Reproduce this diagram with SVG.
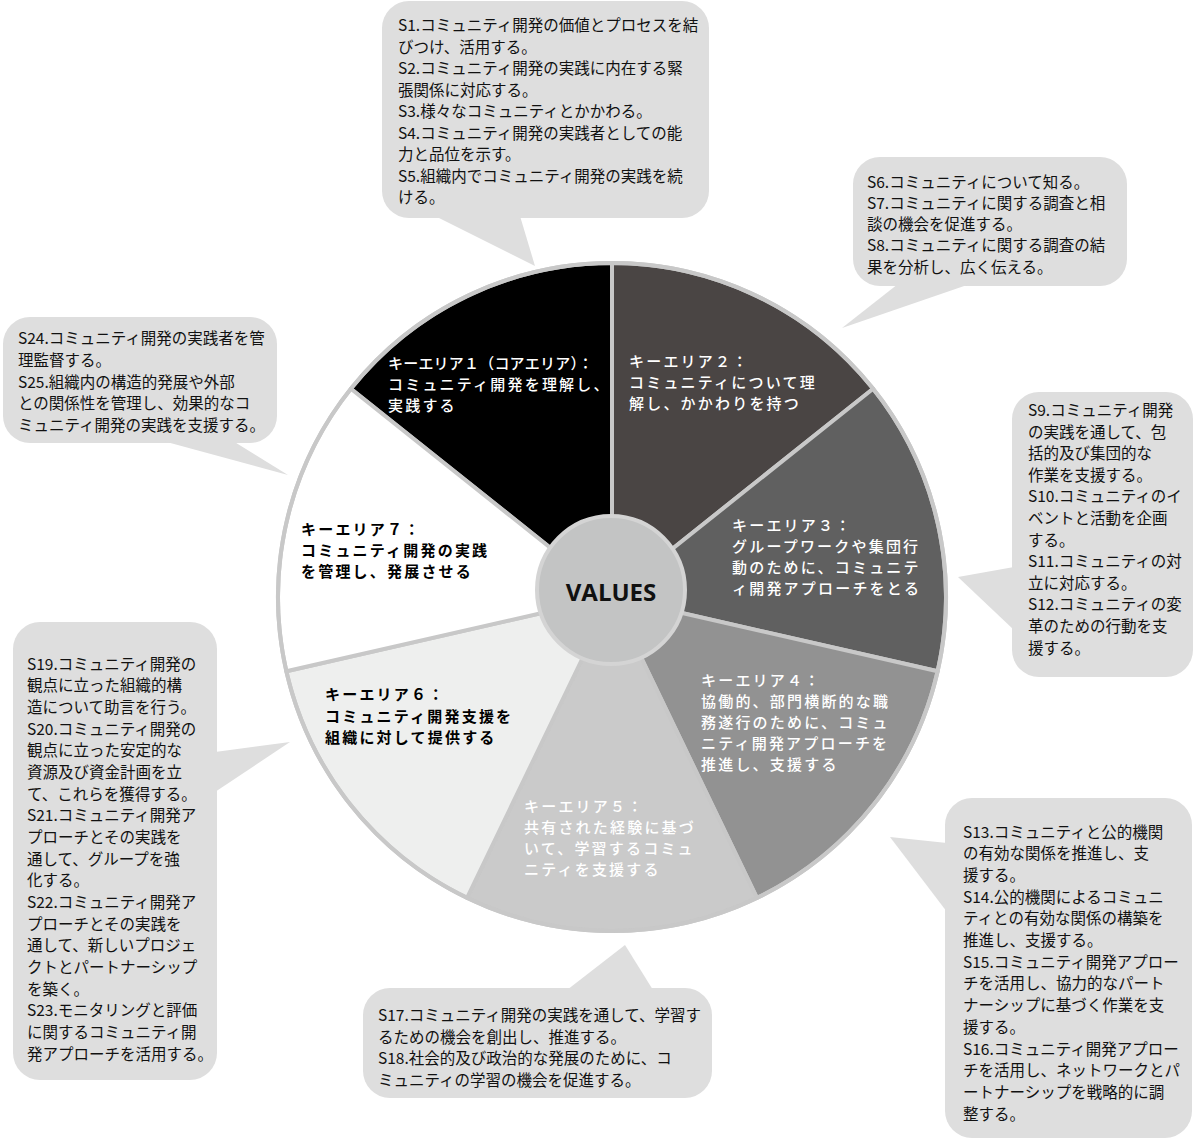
<svg xmlns="http://www.w3.org/2000/svg" width="1194" height="1142" viewBox="0 0 1194 1142">
<defs>
<style>
.bub{fill:#dedede;stroke:none}
.bt{font-family:"Noto Sans CJK JP","Noto Sans",sans-serif;font-size:15.5px;fill:#111}
.sec{stroke:#c8c8c8;stroke-width:4;stroke-linejoin:round}
.st{font-family:"Noto Sans CJK JP","Noto Sans",sans-serif;font-size:15px;letter-spacing:2.2px}
.w{fill:#ffffff;font-weight:500}
.k{fill:#000000;font-weight:700}
</style>
</defs>
<rect width="1194" height="1142" fill="#ffffff"/>

<g id="wheel">
<g id="sector1"><path class="sec" fill="#000000" d="M612,597 L350.87,388.75 A334,334 0 0 1 612,263 Z"/>
<text class="st w" font-weight="600"><tspan x="388" y="369" letter-spacing="0.2">キーエリア１（コアエリア）：</tspan><tspan x="388" y="390">コミュニティ開発を理解し、</tspan><tspan x="388" y="411">実践する</tspan></text></g>
<g id="sector2"><path class="sec" fill="#4a4544" d="M612,597 L612,263 A334,334 0 0 1 873.13,388.75 Z"/>
<text class="st w"><tspan x="629" y="367">キーエリア２：</tspan><tspan x="629" y="388">コミュニティについて理</tspan><tspan x="629" y="409">解し、かかわりを持つ</tspan></text></g>
<g id="sector3"><path class="sec" fill="#606060" d="M612,597 L873.13,388.75 A334,334 0 0 1 937.63,671.32 Z"/>
<text class="st w"><tspan x="732" y="531">キーエリア３：</tspan><tspan x="732" y="552">グループワークや集団行</tspan><tspan x="732" y="573">動のために、コミュニテ</tspan><tspan x="732" y="594">ィ開発アプローチをとる</tspan></text></g>
<g id="sector4"><path class="sec" fill="#929292" d="M612,597 L937.63,671.32 A334,334 0 0 1 756.92,897.92 Z"/>
<text class="st w"><tspan x="701" y="686">キーエリア４：</tspan><tspan x="701" y="707">協働的、部門横断的な職</tspan><tspan x="701" y="728">務遂行のために、コミュ</tspan><tspan x="701" y="749">ニティ開発アプローチを</tspan><tspan x="701" y="770">推進し、支援する</tspan></text></g>
<g id="sector5"><path class="sec" fill="#cacaca" d="M612,597 L756.92,897.92 A334,334 0 0 1 467.08,897.92 Z"/>
<text class="st w"><tspan x="524" y="812">キーエリア５：</tspan><tspan x="524" y="833">共有された経験に基づ</tspan><tspan x="524" y="854">いて、学習するコミュ</tspan><tspan x="524" y="875">ニティを支援する</tspan></text></g>
<g id="sector6"><path class="sec" fill="#eeefee" d="M612,597 L467.08,897.92 A334,334 0 0 1 286.37,671.32 Z"/>
<text class="st k"><tspan x="325" y="700">キーエリア６：</tspan><tspan x="325" y="721.5">コミュニティ開発支援を</tspan><tspan x="325" y="743">組織に対して提供する</tspan></text></g>
<g id="sector7"><path class="sec" fill="#ffffff" d="M612,597 L286.37,671.32 A334,334 0 0 1 350.87,388.75 Z"/>
<text class="st k"><tspan x="301" y="535">キーエリア７：</tspan><tspan x="301" y="556">コミュニティ開発の実践</tspan><tspan x="301" y="577">を管理し、発展させる</tspan></text></g>
<circle cx="612" cy="597" r="334" fill="none" stroke="#c8c8c8" stroke-width="4"/>
</g>

<g id="values">
<circle cx="611" cy="590" r="74" fill="#c3c4c4" stroke="#d4d4d4" stroke-width="4"/>
<text x="611" y="601" text-anchor="middle" font-family="'Open Sans','Noto Sans',sans-serif" font-weight="700" font-size="24" fill="#111">VALUES</text>
</g>

<g id="callout-s1-s5">
<rect class="bub" x="382" y="1" width="327" height="217" rx="27"/>
<polygon class="bub" points="435,216 520,216 535,266"/>
<text class="bt"><tspan x="398" y="31">S1.コミュニティ開発の価値とプロセスを結</tspan><tspan x="398" y="52.5">びつけ、活用する。</tspan><tspan x="398" y="74">S2.コミュニティ開発の実践に内在する緊</tspan><tspan x="398" y="95.5">張関係に対応する。</tspan><tspan x="398" y="117">S3.様々なコミュニティとかかわる。</tspan><tspan x="398" y="138.5">S4.コミュニティ開発の実践者としての能</tspan><tspan x="398" y="160">力と品位を示す。</tspan><tspan x="398" y="181.5">S5.組織内でコミュニティ開発の実践を続</tspan><tspan x="398" y="203">ける。</tspan></text>
</g>

<g id="callout-s6-s8">
<rect class="bub" x="853" y="157" width="274" height="129" rx="27"/>
<polygon class="bub" points="898,284 970,284 842,328"/>
<text class="bt"><tspan x="867" y="188">S6.コミュニティについて知る。</tspan><tspan x="867" y="209">S7.コミュニティに関する調査と相</tspan><tspan x="867" y="230">談の機会を促進する。</tspan><tspan x="867" y="251">S8.コミュニティに関する調査の結</tspan><tspan x="867" y="273">果を分析し、広く伝える。</tspan></text>
</g>

<g id="callout-s9-s12">
<rect class="bub" x="1012" y="392" width="181" height="285" rx="27"/>
<polygon class="bub" points="1014,567 1014,630 958,577"/>
<text class="bt"><tspan x="1028" y="416">S9.コミュニティ開発</tspan><tspan x="1028" y="437.6">の実践を通して、包</tspan><tspan x="1028" y="459.2">括的及び集団的な</tspan><tspan x="1028" y="480.8">作業を支援する。</tspan><tspan x="1028" y="502.4">S10.コミュニティのイ</tspan><tspan x="1028" y="524">ベントと活動を企画</tspan><tspan x="1028" y="545.6">する。</tspan><tspan x="1028" y="567.2">S11.コミュニティの対</tspan><tspan x="1028" y="588.8">立に対応する。</tspan><tspan x="1028" y="610.4">S12.コミュニティの変</tspan><tspan x="1028" y="632">革のための行動を支</tspan><tspan x="1028" y="653.6">援する。</tspan></text>
</g>

<g id="callout-s13-s16">
<rect class="bub" x="945" y="798" width="247" height="340" rx="27"/>
<polygon class="bub" points="947,843 947,912 890,837"/>
<text class="bt"><tspan x="963" y="837.5">S13.コミュニティと公的機関</tspan><tspan x="963" y="859.2">の有効な関係を推進し、支</tspan><tspan x="963" y="880.9">援する。</tspan><tspan x="963" y="902.6">S14.公的機関によるコミュニ</tspan><tspan x="963" y="924.3">ティとの有効な関係の構築を</tspan><tspan x="963" y="946">推進し、支援する。</tspan><tspan x="963" y="967.7">S15.コミュニティ開発アプロー</tspan><tspan x="963" y="989.4">チを活用し、協力的なパート</tspan><tspan x="963" y="1011.1">ナーシップに基づく作業を支</tspan><tspan x="963" y="1032.8">援する。</tspan><tspan x="963" y="1054.5">S16.コミュニティ開発アプロー</tspan><tspan x="963" y="1076.2">チを活用し、ネットワークとパ</tspan><tspan x="963" y="1097.9">ートナーシップを戦略的に調</tspan><tspan x="963" y="1119.6">整する。</tspan></text>
</g>

<g id="callout-s17-s18">
<rect class="bub" x="363" y="988" width="349" height="110" rx="27"/>
<polygon class="bub" points="567,990 653,990 625,945"/>
<text class="bt"><tspan x="378" y="1021">S17.コミュニティ開発の実践を通して、学習す</tspan><tspan x="378" y="1042.5">るための機会を創出し、推進する。</tspan><tspan x="378" y="1064">S18.社会的及び政治的な発展のために、コ</tspan><tspan x="378" y="1085.5">ミュニティの学習の機会を促進する。</tspan></text>
</g>

<g id="callout-s19-s23">
<rect class="bub" x="13" y="622" width="204" height="458" rx="27"/>
<polygon class="bub" points="215,752 215,792 290,742"/>
<text class="bt"><tspan x="27" y="669.5">S19.コミュニティ開発の</tspan><tspan x="27" y="691.2">観点に立った組織的構</tspan><tspan x="27" y="712.8">造について助言を行う。</tspan><tspan x="27" y="734.5">S20.コミュニティ開発の</tspan><tspan x="27" y="756.2">観点に立った安定的な</tspan><tspan x="27" y="777.8">資源及び資金計画を立</tspan><tspan x="27" y="799.5">て、これらを獲得する。</tspan><tspan x="27" y="821.2">S21.コミュニティ開発ア</tspan><tspan x="27" y="842.9">プローチとその実践を</tspan><tspan x="27" y="864.5">通して、グループを強</tspan><tspan x="27" y="886.2">化する。</tspan><tspan x="27" y="907.9">S22.コミュニティ開発ア</tspan><tspan x="27" y="929.5">プローチとその実践を</tspan><tspan x="27" y="951.2">通して、新しいプロジェ</tspan><tspan x="27" y="972.9">クトとパートナーシップ</tspan><tspan x="27" y="994.5">を築く。</tspan><tspan x="27" y="1016.2">S23.モニタリングと評価</tspan><tspan x="27" y="1037.9">に関するコミュニティ開</tspan><tspan x="27" y="1059.5">発アプローチを活用する。</tspan></text>
</g>

<g id="callout-s24-s25">
<rect class="bub" x="3" y="317" width="274" height="126" rx="27"/>
<polygon class="bub" points="163,441 233,441 288,475"/>
<text class="bt"><tspan x="18" y="344">S24.コミュニティ開発の実践者を管</tspan><tspan x="18" y="366">理監督する。</tspan><tspan x="18" y="388">S25.組織内の構造的発展や外部</tspan><tspan x="18" y="409">との関係性を管理し、効果的なコ</tspan><tspan x="18" y="431">ミュニティ開発の実践を支援する。</tspan></text>
</g>
</svg>
